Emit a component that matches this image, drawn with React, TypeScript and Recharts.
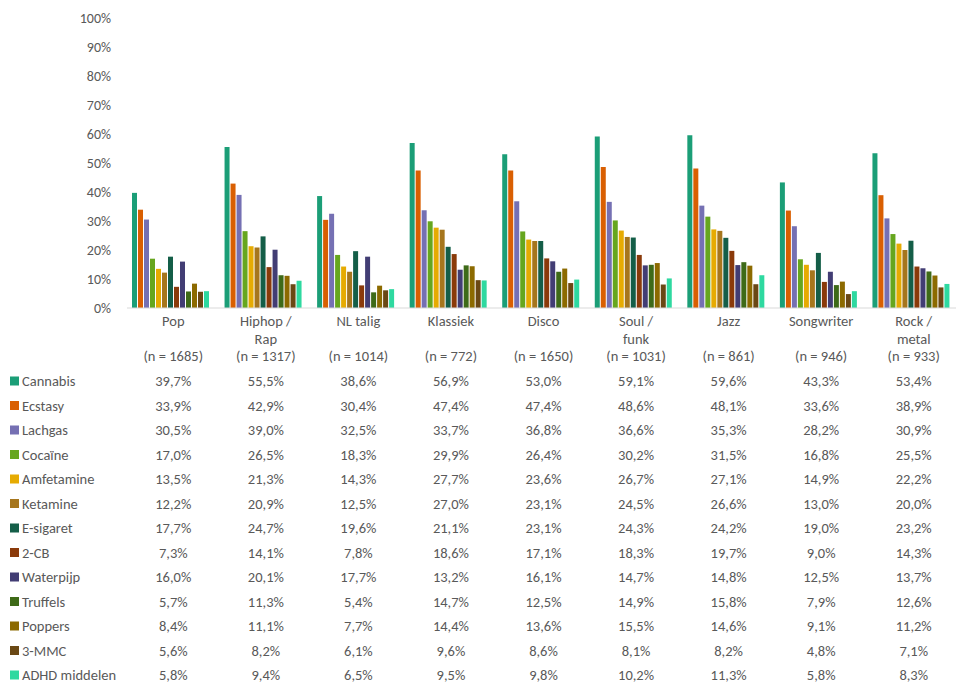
import { Bar, BarChart, XAxis, YAxis } from "recharts";

const CATEGORIES = ["Pop", "Hiphop / Rap", "NL talig", "Klassiek", "Disco", "Soul / funk", "Jazz", "Songwriter", "Rock / metal"];

const CATEGORY_LINES: string[][] = [
  ["Pop", "", "(n = 1685)"],
  ["Hiphop /", "Rap", "(n = 1317)"],
  ["NL talig", "", "(n = 1014)"],
  ["Klassiek", "", "(n = 772)"],
  ["Disco", "", "(n = 1650)"],
  ["Soul /", "funk", "(n  = 1031)"],
  ["Jazz", "", "(n = 861)"],
  ["Songwriter", "", "(n = 946)"],
  ["Rock /", "metal", "(n = 933)"],
];

const cannabis = [39.7, 55.5, 38.6, 56.9, 53.0, 59.1, 59.6, 43.3, 53.4];
const ecstasy = [33.9, 42.9, 30.4, 47.4, 47.4, 48.6, 48.1, 33.6, 38.9];
const lachgas = [30.5, 39.0, 32.5, 33.7, 36.8, 36.6, 35.3, 28.2, 30.9];
const cocaine = [17.0, 26.5, 18.3, 29.9, 26.4, 30.2, 31.5, 16.8, 25.5];
const amfetamine = [13.5, 21.3, 14.3, 27.7, 23.6, 26.7, 27.1, 14.9, 22.2];
const ketamine = [12.2, 20.9, 12.5, 27.0, 23.1, 24.5, 26.6, 13.0, 20.0];
const eSigaret = [17.7, 24.7, 19.6, 21.1, 23.1, 24.3, 24.2, 19.0, 23.2];
const twoCB = [7.3, 14.1, 7.8, 18.6, 17.1, 18.3, 19.7, 9.0, 14.3];
const waterpijp = [16.0, 20.1, 17.7, 13.2, 16.1, 14.7, 14.8, 12.5, 13.7];
const truffels = [5.7, 11.3, 5.4, 14.7, 12.5, 14.9, 15.8, 7.9, 12.6];
const poppers = [8.4, 11.1, 7.7, 14.4, 13.6, 15.5, 14.6, 9.1, 11.2];
const mmc = [5.6, 8.2, 6.1, 9.6, 8.6, 8.1, 8.2, 4.8, 7.1];
const adhd = [5.8, 9.4, 6.5, 9.5, 9.8, 10.2, 11.3, 5.8, 8.3];

const Y_TICKS = [0, 10, 20, 30, 40, 50, 60, 70, 80, 90, 100];

const SERIES = [
  { key: "Cannabis", values: cannabis, color: "#1b9e77" },
  { key: "Ecstasy", values: ecstasy, color: "#d95f02" },
  { key: "Lachgas", values: lachgas, color: "#7570b3" },
  { key: "Cocaïne", values: cocaine, color: "#66a61e" },
  { key: "Amfetamine", values: amfetamine, color: "#e6ab02" },
  { key: "Ketamine", values: ketamine, color: "#a6761d" },
  { key: "E-sigaret", values: eSigaret, color: "#145e48" },
  { key: "2-CB", values: twoCB, color: "#8a3a0a" },
  { key: "Waterpijp", values: waterpijp, color: "#423d74" },
  { key: "Truffels", values: truffels, color: "#3e6a18" },
  { key: "Poppers", values: poppers, color: "#8c6a00" },
  { key: "3-MMC", values: mmc, color: "#6a4814" },
  { key: "ADHD middelen", values: adhd, color: "#2ed9a0" },
];

const data = CATEGORIES.map((name, i) => {
  const row: Record<string, string | number> = { name };
  SERIES.forEach((s) => {
    row[s.key] = s.values[i];
  });
  return row;
});

const FONT = "Carlito, Lato, 'Liberation Sans', sans-serif";
const TEXT = "#595959";
const ROW_START = 73;
const ROW_STEP = 24.5;

const fmt = (v: number) => v.toFixed(1).replace(".", ",") + "%";

function CategoryTick(props: any) {
  const { x, y, index } = props;
  const lines = CATEGORY_LINES[index] ?? [];
  return (
    <g fontFamily={FONT} fontSize={14.5} fill={TEXT}>
      {lines.map((l, j) =>
        l ? (
          <text key={j} x={x} y={y + 13 + j * 17.5} textAnchor="middle" dominantBaseline="central">
            {l}
          </text>
        ) : null
      )}
      {SERIES.map((s, r) => (
        <text key={s.key} x={x} y={y + ROW_START + r * ROW_STEP} textAnchor="middle" dominantBaseline="central">
          {fmt(s.values[index])}
        </text>
      ))}
      {index === 0 &&
        SERIES.map((s, r) => (
          <g key={"lg" + s.key}>
            <rect x={10} y={y + ROW_START + r * ROW_STEP - 4.5} width={9} height={9} fill={s.color} />
            <text x={22} y={y + ROW_START + r * ROW_STEP} textAnchor="start" dominantBaseline="central">
              {s.key}
            </text>
          </g>
        ))}
    </g>
  );
}

export default function App() {
  return (
    <div style={{ position: "absolute", left: 0, top: 0, width: 956, height: 683, overflow: "hidden", background: "#fff" }}>
      <BarChart
        width={960}
        height={683}
        data={data}
        margin={{ top: 18, right: 0, bottom: 0, left: 0 }}
        barCategoryGap="5.4%"
        barGap={1}
      >
        <YAxis
          width={127}
          domain={[0, 100]}
          ticks={Y_TICKS}
          tickFormatter={(v: number) => `${v}%`}
          axisLine={false}
          tickLine={false}
          tickSize={0}
          tickMargin={16}
          interval={0}
          tick={{ fill: TEXT, fontSize: 14, fontFamily: FONT }}
        />
        <XAxis
          dataKey="name"
          height={375}
          interval={0}
          tickLine={false}
          tickSize={0}
          tickMargin={0}
          axisLine={{ stroke: "#d9d9d9" }}
          tick={<CategoryTick />}
        />
        {SERIES.map((s) => (
          <Bar key={s.key} dataKey={s.key} fill={s.color} isAnimationActive={false} />
        ))}
      </BarChart>
    </div>
  );
}
